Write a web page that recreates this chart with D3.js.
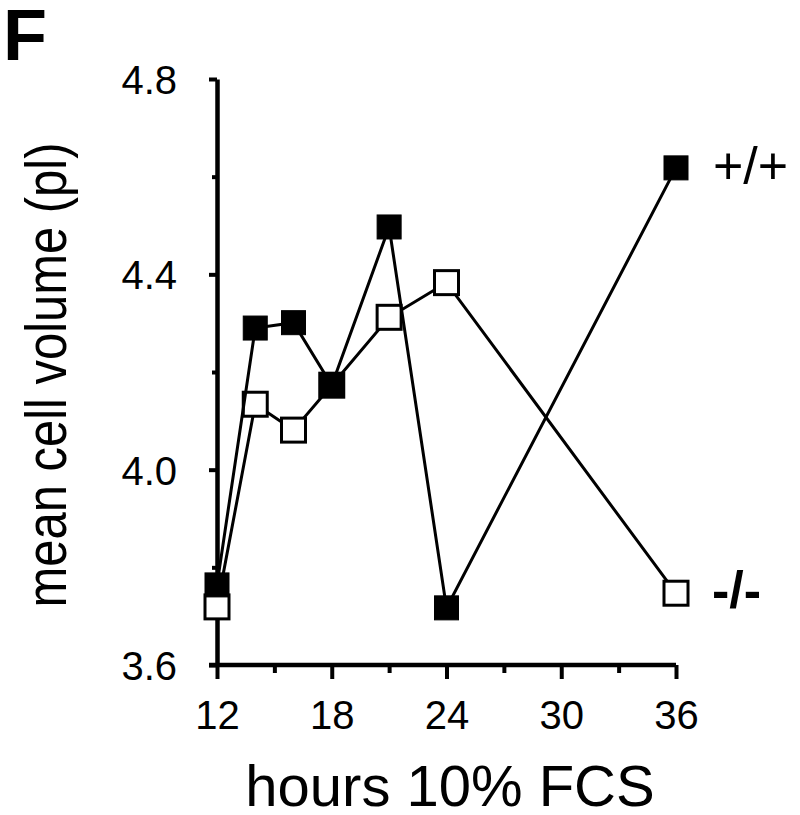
<!DOCTYPE html>
<html>
<head>
<meta charset="utf-8">
<script src="https://cdn.jsdelivr.net/npm/d3@7"></script>
<style>
  body { margin: 0; background: #fff; }
  svg text { font-family: "Liberation Sans", Arial, Helvetica, sans-serif; fill: #000; }
</style>
</head>
<body>
<svg id="chart" width="800" height="815"></svg>
<script>
// hours after 10% FCS
const hours = [12, 14, 16, 18, 21, 24, 36];
const wildType = [3.764, 4.29, 4.301, 4.173, 4.497, 3.717, 4.618];   // +/+ filled
const knockout = [3.719, 4.134, 4.081, 4.173, 4.312, 4.383, 3.747];  // -/- open
const xTicks = [12, 18, 24, 30, 36];
const xMinor = [15, 21, 27, 33];
const yTicks = [3.6, 4.0, 4.4, 4.8];
const yMinor = [3.8, 4.2, 4.6];

const svg = d3.select("#chart");

const x = d3.scaleLinear().domain([12, 36]).range([217, 676]);
const y = d3.scaleLinear().domain([3.6, 4.8]).range([665, 79]);

// panel letter
svg.append("text")
  .attr("x", 3).attr("y", 60)
  .attr("font-size", 72).attr("font-weight", "bold")
  .text("F");

// y axis
const yAxis = svg.append("g").attr("transform", "translate(" + x(12) + ",0)");
yAxis.call(d3.axisLeft(y).tickValues(yTicks).tickSize(8).tickSizeOuter(0).tickFormat(d3.format(".1f")));
yAxis.append("g").call(d3.axisLeft(y).tickValues(yMinor).tickSize(5).tickFormat("")).select(".domain").remove();
yAxis.selectAll("line").attr("stroke-width", 4);
yAxis.select(".domain").attr("stroke-width", 4.5);
yAxis.selectAll("text").attr("font-size", 40).attr("x", -40).attr("dy", "0.36em");

// x axis
const xAxis = svg.append("g").attr("transform", "translate(0," + y(3.6) + ")");
xAxis.call(d3.axisBottom(x).tickValues(xTicks).tickSize(14).tickSizeOuter(0));
xAxis.append("g").call(d3.axisBottom(x).tickValues(xMinor).tickSize(8).tickFormat("")).select(".domain").remove();
xAxis.selectAll("line").attr("stroke-width", 4);
xAxis.select(".domain").attr("stroke-width", 4.5).attr("d", "M" + (x(12) - 8) + ",0H" + x(36));
xAxis.selectAll("text").attr("font-size", 40).attr("y", 36).attr("dy", "0.71em");

// axis titles
svg.append("text")
  .attr("x", 450).attr("y", 806)
  .attr("text-anchor", "middle").attr("font-size", 58)
  .text("hours 10% FCS");

svg.append("text")
  .attr("transform", "translate(66,375) rotate(-90)")
  .attr("text-anchor", "middle").attr("font-size", 58)
  .attr("textLength", 465).attr("lengthAdjust", "spacingAndGlyphs")
  .text("mean cell volume (pl)");

const line = d3.line().x((d, i) => x(hours[i])).y(d => y(d));
const size = 24;

function drawSeries(values, filled) {
  svg.append("path")
    .attr("d", line(values))
    .attr("fill", "none").attr("stroke", "#000").attr("stroke-width", 3);
  svg.append("g").selectAll("rect")
    .data(values)
    .join("rect")
    .attr("x", (d, i) => x(hours[i]) - size / 2)
    .attr("y", d => y(d) - size / 2)
    .attr("width", size).attr("height", size)
    .attr("fill", filled ? "#000" : "#fff")
    .attr("stroke", "#000").attr("stroke-width", filled ? 1 : 3);
}

drawSeries(knockout, false);
drawSeries(wildType, true);

// series labels
svg.append("text")
  .attr("x", 713).attr("y", y(wildType[6]) + 16)
  .attr("font-size", 52)
  .text("+/+");
svg.append("text")
  .attr("x", 712).attr("y", y(knockout[6]) + 15)
  .attr("font-size", 52).attr("font-weight", "bold")
  .text("-/-");
</script>
</body>
</html>
